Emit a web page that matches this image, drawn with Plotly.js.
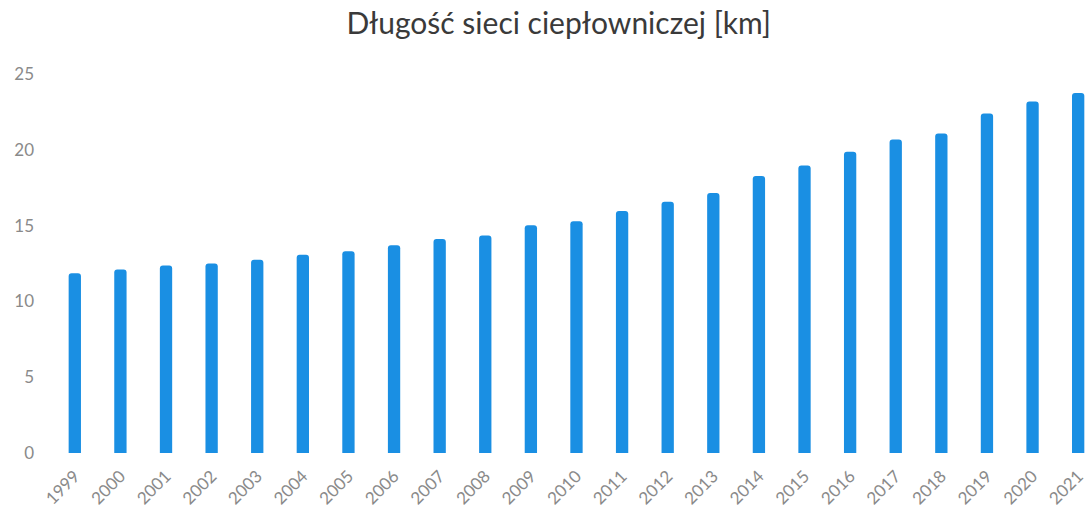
<!DOCTYPE html>
<html>
<head>
<meta charset="utf-8">
<script src="https://cdn.plot.ly/plotly-3.0.1.min.js"></script>
<style>
  html, body { margin: 0; padding: 0; background: #fff; }
  #chart { width: 1085px; height: 519px; }
</style>
</head>
<body>
<div id="chart"></div>
<script>
  // lata i długość sieci [km]
  var years = ['1999', '2000', '2001', '2002', '2003', '2004', '2005', '2006',
               '2007', '2008', '2009', '2010', '2011', '2012', '2013', '2014',
               '2015', '2016', '2017', '2018', '2019', '2020', '2021'];
  var lengthKm = [11.86, 12.1, 12.37, 12.5, 12.74, 13.07, 13.3, 13.7,
                  14.12, 14.34, 15.02, 15.28, 15.97, 16.58, 17.15, 18.27,
                  18.97, 19.87, 20.68, 21.07, 22.39, 23.18, 23.75];
  var yTicks = [0, 5, 10, 15, 20, 25];

  var trace = {
    x: years,
    y: lengthKm,
    type: 'bar',
    marker: { color: '#1a8fe3', cornerradius: 3 },
    hoverinfo: 'x+y'
  };

  var layout = {
    width: 1085,
    height: 519,
    margin: { l: 52, r: 0, t: 74, b: 66 },
    paper_bgcolor: '#fff',
    plot_bgcolor: '#fff',
    showlegend: false,
    bargap: 0.73,
    font: { family: 'Lato, "Open Sans", sans-serif', color: '#8a8a8a' },
    title: {
      text: 'Długość sieci ciepłowniczej [km]',
      x: 0.515,
      xanchor: 'center',
      y: 0.955,
      yanchor: 'middle',
      font: { size: 30, color: '#3a3a3a', family: 'Lato, "Open Sans", sans-serif' }
    },
    xaxis: {
      type: 'category',
      range: [-0.5, 22.15],
      tickangle: -45,
      tickfont: { size: 17, color: '#8a8a8a' },
      ticklabelstandoff: 9,
      showgrid: false,
      zeroline: false,
      showline: false,
      ticks: ''
    },
    yaxis: {
      range: [0, 25],
      tickvals: yTicks,
      ticktext: yTicks.map(String),
      tickfont: { size: 17, color: '#8a8a8a' },
      ticklabelstandoff: 17,
      showgrid: false,
      zeroline: false,
      showline: false,
      ticks: ''
    }
  };

  Plotly.newPlot('chart', [trace], layout, { displayModeBar: false, staticPlot: true });
</script>
</body>
</html>
